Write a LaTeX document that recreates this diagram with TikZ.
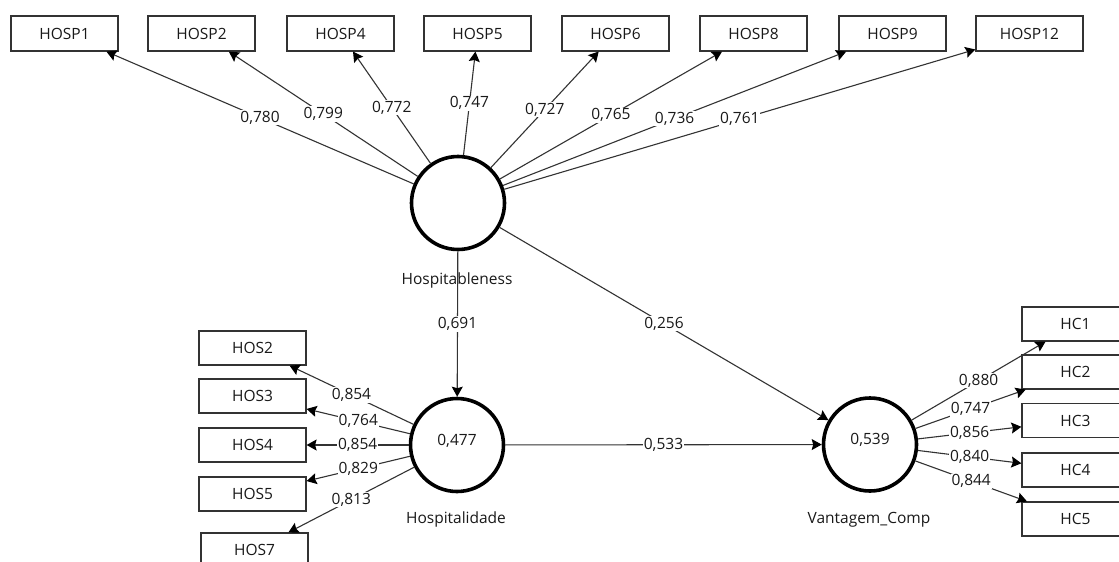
\documentclass[tikz,border=0pt]{standalone}
\usepackage{fontspec}
\setmainfont{Open Sans}
\usetikzlibrary{arrows.meta}
\begin{document}
\begin{tikzpicture}[x=1pt,y=-1pt,
  every node/.style={font=\fontsize{15.5}{18}\selectfont, text=black!90},
  lv/.style={circle, draw=black, line width=3.6pt, minimum size=93pt, inner sep=0pt, text height=6pt, text depth=6pt},
  ind/.style={rectangle, draw=black!80, line width=1.2pt, minimum width=107pt, minimum height=35pt, inner sep=0pt, fill=white},
  indb/.style={ind, minimum height=34pt},
  lvname/.style={anchor=base},
  load/.style={-{Stealth[length=10pt,width=11pt,inset=1.5pt,color=black]}, draw=black!80, line width=1.1pt},
  coef/.style={fill=white, inner sep=1pt, midway}
]
\clip (0,0) rectangle (1119,562);
\fill[white] (0,0) rectangle (1119,562);

% indicators (top)
\node[ind] (p1)  at (64.5,33.5)   {HOSP1};
\node[ind] (p2)  at (201.5,33.5)  {HOSP2};
\node[ind] (p4)  at (340.5,33.5)  {HOSP4};
\node[ind] (p5)  at (477.5,33.5)  {HOSP5};
\node[ind] (p6)  at (615.5,33.5)  {HOSP6};
\node[ind] (p8)  at (753.5,33.5)  {HOSP8};
\node[ind] (p9)  at (892.5,33.5)  {HOSP9};
\node[ind] (p12) at (1029.5,33.5) {HOSP12};

% indicators (left)
\node[indb] (s2) at (252.5,348) {HOS2};
\node[indb] (s3) at (252.5,396) {HOS3};
\node[indb] (s4) at (252.5,445) {HOS4};
\node[indb] (s5) at (252.5,494) {HOS5};
\node[indb] (s7) at (254.5,550) {HOS7};

% indicators (right)
\node[indb] (c1) at (1075.5,324)   {HC1};
\node[indb] (c2) at (1075.5,372)   {HC2};
\node[indb] (c3) at (1075.5,420.5) {HC3};
\node[indb] (c4) at (1075.5,470)   {HC4};
\node[indb] (c5) at (1075.5,519)   {HC5};

% latent variables
\node[lv] (H)  at (458,203)   {};
\node[lv] (Ho) at (457,445)   {0,477};
\node[lv] (V)  at (870,444.5) {0,539};
\node[lvname] (Hn)  at (457,284) {Hospitableness};
\node[lvname] (Hon) at (456,523) {Hospitalidade};
\node[lvname] (Vn)  at (869,523) {Vantagem\_Comp};

% outer loadings (top)
\draw[load] (H) -- node[coef]{0,780} (p1);
\draw[load] (H) -- node[coef]{0,799} (p2);
\draw[load] (H) -- node[coef]{0,772} (p4);
\draw[load] (H) -- node[coef]{0,747} (p5);
\draw[load] (H) -- node[coef]{0,727} (p6);
\draw[load] (H) -- node[coef]{0,765} (p8);
\draw[load] (H) -- node[coef]{0,736} (p9);
\draw[load] (H) -- node[coef]{0,761} (p12);

% structural paths
\draw[load] (H)  -- node[coef]{0,691} (Ho);
\draw[load] (H)  -- node[coef]{0,256} (V);
\draw[load] (Ho) -- node[coef]{0,533} (V);

% outer loadings (left)
\draw[load] (Ho) -- node[coef]{0,854} (s2);
\draw[load] (Ho) -- node[coef]{0,764} (s3);
\draw[load] (Ho) -- node[coef]{0,854} (s4);
\draw[load] (Ho) -- node[coef]{0,829} (s5);
\draw[load] (Ho) -- node[coef]{0,813} (s7);

% outer loadings (right)
\draw[load] (V) -- node[coef]{0,880} (c1);
\draw[load] (V) -- node[coef]{0,747} (c2);
\draw[load] (V) -- node[coef]{0,856} (c3);
\draw[load] (V) -- node[coef]{0,840} (c4);
\draw[load] (V) -- node[coef]{0,844} (c5);
\end{tikzpicture}
\end{document}
